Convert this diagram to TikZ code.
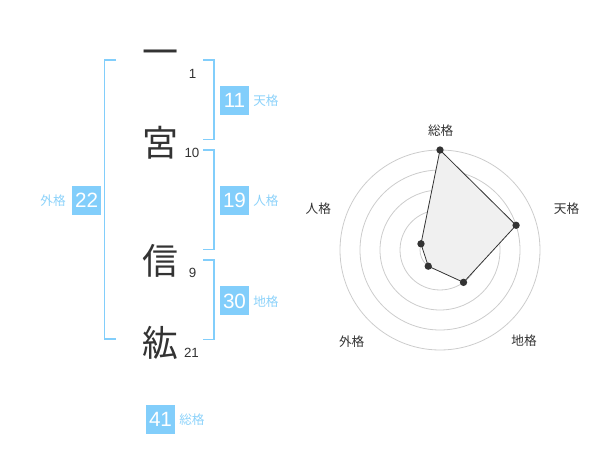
\documentclass[tikz,border=0pt]{standalone}
\usepackage{fontspec}
\usetikzlibrary{calc}
\setmainfont{Liberation Sans}
\newfontfamily\jp{Noto Sans CJK JP}
\definecolor{sky}{HTML}{82CEFB}
\definecolor{skytext}{HTML}{8CD2FA}
\definecolor{ink}{HTML}{333333}
\definecolor{ringc}{HTML}{CCCCCC}
\definecolor{area}{HTML}{F0F0F0}
\begin{document}
\begin{tikzpicture}[x=0.75pt,y=-0.75pt,
  kanji/.style={font=\jp\fontsize{27}{27}\selectfont, text=ink, inner sep=0pt},
  strokes/.style={font=\fontsize{10}{10}\selectfont, text=ink, inner sep=0pt},
  numbox/.style={fill=sky, text=white, minimum size=21.75pt, inner sep=0pt, font=\fontsize{15.5}{15.5}\selectfont},
  gelabel/.style={font=\jp\fontsize{9.5}{9.5}\selectfont, text=skytext, inner sep=0pt},
  bracketline/.style={draw=sky, line width=1.1pt},
  ringline/.style={draw=ringc, line width=0.6pt},
  axislabel/.style={font=\jp\fontsize{9.5}{9.5}\selectfont, text=ink, inner sep=0pt},
  vertex/.style={circle, fill=ink, inner sep=0pt, minimum size=5.5pt},
  polyline/.style={fill=area, draw=ink, line width=0.6pt}
]
\useasboundingbox (0,0) rectangle (600,470);

% brackets
\draw[bracketline] (116,60) -- (104.5,60) -- (104.5,339) -- (116,339);
\draw[bracketline] (203,60) -- (214,60) -- (214,139.5) -- (203,139.5);
\draw[bracketline] (203,150) -- (214,150) -- (214,249.5) -- (203,249.5);
\draw[bracketline] (203,260) -- (214,260) -- (214,339.5) -- (203,339.5);

% name characters
\node[kanji] (k1) at (160,58) {一};
\node[kanji] (k2) at (160,142.5) {宮};
\node[kanji] (k3) at (160,260.5) {信};
\node[kanji] (k4) at (160,342.5) {紘};

% stroke counts
\node[strokes] (s1) at (192.5,73.5) {1};
\node[strokes] (s2) at (192,153) {10};
\node[strokes] (s3) at (192.5,272.5) {9};
\node[strokes] (s4) at (191.5,352.5) {21};

% boxes
\node[numbox] (ten) at (234.5,100.5) {11};
\node[gelabel, anchor=west] (tenl) at (253,101) {天格};
\node[numbox] (jin) at (234.5,200.5) {19};
\node[gelabel, anchor=west] (jinl) at (253,201) {人格};
\node[numbox] (chi) at (234.5,301) {30};
\node[gelabel, anchor=west] (chil) at (253,302) {地格};
\node[numbox] (gai) at (86.7,200.5) {22};
\node[gelabel, anchor=east] (gail) at (66,201) {外格};
\node[numbox] (sou) at (160.5,419.5) {41};
\node[gelabel, anchor=west] (soul) at (179,420) {総格};

% radar chart
\coordinate (c) at (440,250);
\foreach \r in {20,40,60,80,100} \draw[ringline] (c) circle[radius=\r];
\coordinate (p1) at ($(c)+(-90:100)$);
\coordinate (p2) at ($(c)+(-18:80)$);
\coordinate (p3) at ($(c)+(54:40)$);
\coordinate (p4) at ($(c)+(126:20)$);
\coordinate (p5) at ($(c)+(198:20)$);
\fill[ringc] (c) circle[radius=3.2];
\draw[polyline] (p1) -- (p2) -- (p3) -- (p4) -- (p5) -- cycle;
\foreach \p in {p1,p2,p3,p4,p5} \node[vertex] at (\p) {};

\node[axislabel] (a1) at (440.7,130.5) {総格};
\node[axislabel] (a2) at (566.5,209) {天格};
\node[axislabel] (a3) at (524,341) {地格};
\node[axislabel] (a4) at (351.7,342) {外格};
\node[axislabel] (a5) at (318.3,209) {人格};
\end{tikzpicture}
\end{document}
